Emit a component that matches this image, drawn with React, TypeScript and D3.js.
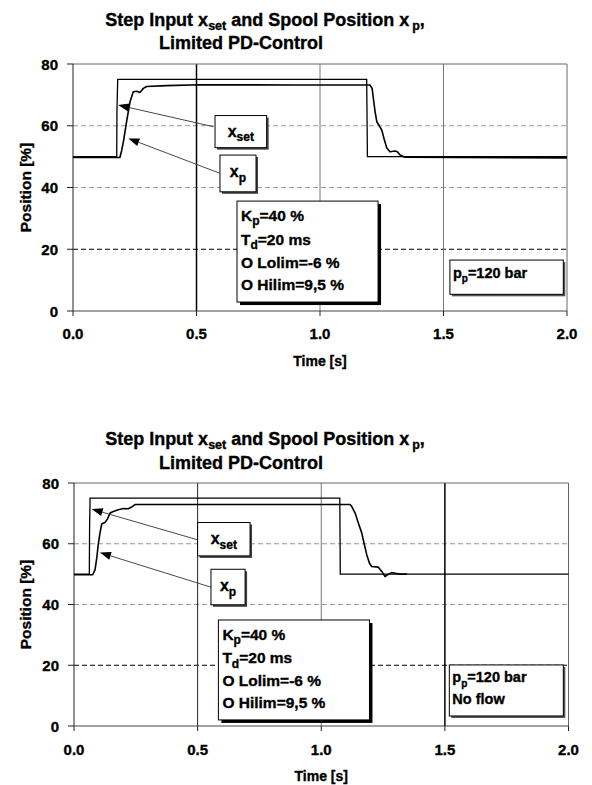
import React from 'react';
import * as d3 from 'd3';

const FONT = "'Liberation Sans', Arial, Helvetica, sans-serif";

// Shared axis ticks
const timeTicks = [0, 0.5, 1.0, 1.5, 2.0];
const timeTickLabels = ['0.0', '0.5', '1.0', '1.5', '2.0'];
const posTicks = [0, 20, 40, 60, 80];
const posTickLabels = ['0', '20', '40', '60', '80'];
const dashedLevels = [20, 40, 60];
const cursorTimes = [0.5, 1.0, 1.5];

// Run A: pump pressure 120 bar
const setTimeA = [0, 0.177, 0.178, 0.181, 1.189, 1.192, 2.0];
const setValA = [50, 50, 65, 75, 75, 50, 50];
const spoolTimeA = [0, 0.19, 0.197, 0.204, 0.217, 0.231, 0.244, 0.258, 0.271, 0.285, 0.298, 0.379, 0.514, 0.9, 1.202, 1.211, 1.216, 1.223, 1.23, 1.24, 1.25, 1.259, 1.27, 1.283, 1.304, 1.313, 1.324, 1.344, 2.0];
const spoolValA = [49.7, 49.7, 52, 54.8, 61.3, 67.8, 71.0, 71.2, 70.8, 72.1, 72.7, 73.0, 73.3, 73.2, 73.2, 72.1, 68.9, 64.6, 61.3, 60.0, 58.6, 55.9, 52.9, 51.6, 51.8, 51.6, 50.5, 49.8, 49.6];

// Run B: pump pressure 120 bar, no flow
const setTimeB = [0, 0.062, 0.063, 0.065, 1.075, 1.077, 2.0];
const setValB = [50, 50, 65, 75, 75, 50, 50];
const spoolTimeB = [0, 0.0756, 0.085, 0.092, 0.098, 0.105, 0.112, 0.125, 0.135, 0.146, 0.159, 0.179, 0.2, 0.22, 0.233, 0.247, 1.117, 1.123, 1.137, 1.15, 1.164, 1.173, 1.184, 1.195, 1.204, 1.231, 1.245, 1.258, 1.272, 1.285, 1.299, 1.319, 1.346];
const spoolValB = [49.8, 49.8, 51.4, 55.3, 59.7, 63.5, 66.5, 67.0, 68.1, 70.1, 70.6, 71.2, 71.6, 71.5, 72.1, 72.9, 72.9, 72.3, 70.1, 66.8, 63.5, 60.2, 56.4, 53.6, 52.5, 52.3, 50.9, 49.2, 50.0, 50.5, 50.3, 50.0, 50.0];

const zip = (t: number[], v: number[]) => t.map((ti, i) => [ti, v[i]] as [number, number]);

type Frame = { left: number; right: number; top: number; bottom: number; title1: number; title2: number; tickBase: number; axisTitle: number };
type Box = { t0: number; t1: number; v0: number; v1: number };
type Arrow = { from: [number, number]; to: [number, number] };
type Notes = {
  setBox: Box; spoolBox: Box; setArrow: Arrow; spoolArrow: Arrow;
  paramBox: Box; ppBox: Box; ppExtra: string | null;
};

// heavier bold look for chart text
const heavy = { stroke: '#000', strokeWidth: 0.35 };

function SubText({ x, y, main, sub, rest, size, subSize, weight = 700, anchor = 'start', dx = 0 }:
  { x: number; y: number; main: string; sub: string; rest: string; size: number; subSize: number; weight?: number; anchor?: string; dx?: number }) {
  return (
    <text x={x} y={y} fontSize={size} fontWeight={weight} fontFamily={FONT} textAnchor={anchor} {...heavy}>
      {main}
      <tspan dx={dx} dy={size * 0.28} fontSize={subSize}>{sub}</tspan>
      <tspan dy={-size * 0.28}>{rest}</tspan>
    </text>
  );
}

function Title({ cx, y1, y2 }: { cx: number; y1: number; y2: number }) {
  const s = 18;
  const ss = 12.5;
  return (
    <g fontFamily={FONT} fontWeight={700} fill="#000" {...heavy}>
      <text x={cx} y={y1} fontSize={s} textAnchor="middle">
        Step Input x
        <tspan dy={4} fontSize={ss}>set</tspan>
        <tspan dy={-4}> and Spool Position x</tspan>
        <tspan dx={3} dy={4} fontSize={ss}>p</tspan>
        <tspan dy={-4}>,</tspan>
      </text>
      <text x={cx - 24} y={y2} fontSize={s} textAnchor="middle">Limited PD-Control</text>
    </g>
  );
}

function Panel({ frame, setT, setV, spT, spV, cursorColors, cursorWidths, levelColors, notes }:
  { frame: Frame; setT: number[]; setV: number[]; spT: number[]; spV: number[]; cursorColors: string[]; cursorWidths: number[]; levelColors: string[]; notes: Notes }) {
  const x = d3.scaleLinear().domain([0, 2]).range([frame.left, frame.right]);
  const y = d3.scaleLinear().domain([0, 80]).range([frame.bottom, frame.top]);
  const line = d3.line<[number, number]>().x(d => x(d[0])).y(d => y(d[1]));

  const rect = (b: Box) => ({ x: x(b.t0), y: y(b.v0), w: x(b.t1) - x(b.t0), h: y(b.v1) - y(b.v0) });

  const arrow = (a: Arrow, key: string) => {
    const x1 = x(a.from[0]), y1 = y(a.from[1]), x2 = x(a.to[0]), y2 = y(a.to[1]);
    const ang = Math.atan2(y2 - y1, x2 - x1);
    const len = 11, half = 4;
    const bx = x2 - len * Math.cos(ang), by = y2 - len * Math.sin(ang);
    const px = -Math.sin(ang) * half, py = Math.cos(ang) * half;
    return (
      <g key={key}>
        <line x1={x1} y1={y1} x2={bx} y2={by} stroke="#333" strokeWidth={0.9} />
        <path d={`M${x2},${y2}L${bx + px},${by + py}L${bx - px},${by - py}Z`} fill="#000" />
      </g>
    );
  };

  const shadowBox = (b: Box, shadow: number, shadowColor: string, key: string) => {
    const r = rect(b);
    return (
      <g key={key}>
        <rect x={r.x + shadow} y={r.y + shadow} width={r.w} height={r.h} fill={shadowColor} />
        <rect x={r.x} y={r.y} width={r.w} height={r.h} fill="#fff" stroke="#000" strokeWidth={1} />
      </g>
    );
  };

  const sb = rect(notes.setBox);
  const pb = rect(notes.spoolBox);
  const prm = rect(notes.paramBox);
  const pp = rect(notes.ppBox);
  const midX = (frame.left + frame.right) / 2;
  const midY = (frame.top + frame.bottom) / 2;

  return (
    <g>
      <Title cx={265} y1={frame.title1} y2={frame.title2} />

      {/* dashed position levels */}
      {dashedLevels.map((v, i) => (
        <line key={`h${v}`} x1={x(0)} x2={x(2)} y1={y(v)} y2={y(v)} stroke={levelColors[i]} strokeWidth={1} strokeDasharray="5,3" />
      ))}
      {/* time cursors */}
      {cursorTimes.map((t, i) => (
        <line key={`v${t}`} x1={x(t)} x2={x(t)} y1={y(0)} y2={y(80)} stroke={cursorColors[i]} strokeWidth={cursorWidths[i]} />
      ))}
      {/* plot frame */}
      <line x1={x(0)} x2={x(2)} y1={y(80)} y2={y(80)} stroke="#666" strokeWidth={1} />
      <line x1={x(2)} x2={x(2)} y1={y(80)} y2={y(0)} stroke="#666" strokeWidth={1} />

      {/* axes */}
      <line x1={x(0)} x2={x(0)} y1={y(80)} y2={y(0)} stroke="#222" strokeWidth={1} />
      <line x1={x(0)} x2={x(2)} y1={y(0)} y2={y(0)} stroke="#444" strokeWidth={1} />
      {posTicks.map((v, i) => (
        <g key={`yt${v}`}>
          <line x1={x(0) - 6} x2={x(0)} y1={y(v)} y2={y(v)} stroke="#222" strokeWidth={1} />
          <text x={x(0) - 15} y={y(v) + 5.5} textAnchor="end" fontFamily={FONT} fontWeight={700} fontSize={15} {...heavy}>{posTickLabels[i]}</text>
        </g>
      ))}
      {timeTicks.map((t, i) => (
        <g key={`xt${t}`}>
          <line x1={x(t)} x2={x(t)} y1={y(0)} y2={y(0) + 5} stroke="#222" strokeWidth={1} />
          <text x={x(t)} y={frame.tickBase} textAnchor="middle" fontFamily={FONT} fontWeight={700} fontSize={15} {...heavy}>{timeTickLabels[i]}</text>
        </g>
      ))}
      <text x={midX} y={frame.axisTitle} textAnchor="middle" fontFamily={FONT} fontWeight={700} fontSize={14} {...heavy}>Time [s]</text>
      <text transform={`translate(31,${midY}) rotate(-90)`} textAnchor="middle" fontFamily={FONT} fontWeight={700} fontSize={15.5} {...heavy}>Position [%]</text>

      {/* series */}
      <path d={line(zip(setT, setV)) || ''} fill="none" stroke="#000" strokeWidth={1.3} />
      <path d={line(zip(spT, spV)) || ''} fill="none" stroke="#000" strokeWidth={1.6} strokeLinejoin="round" />

      {/* labels with leader arrows */}
      {arrow(notes.setArrow, 'a1')}
      {arrow(notes.spoolArrow, 'a2')}
      {shadowBox(notes.setBox, 2, '#444', 'b1')}
      {shadowBox(notes.spoolBox, 2, '#444', 'b2')}
      <SubText x={sb.x + sb.w / 2} y={sb.y + sb.h / 2 + 5} main="x" sub="set" rest="" size={16} subSize={12} weight={700} anchor="middle" />
      <SubText x={pb.x + pb.w / 2} y={pb.y + pb.h / 2 + 4} main="x" sub="p" rest="" size={16} subSize={12} weight={700} anchor="middle" />

      {/* controller parameters */}
      {shadowBox(notes.paramBox, 3, '#000', 'b3')}
      <SubText x={prm.x + 4} y={prm.y + 20} main="K" sub="p" rest="=40 %" size={15.5} subSize={12} />
      <SubText x={prm.x + 4} y={prm.y + 43.5} main="T" sub="d" rest="=20 ms" size={15.5} subSize={12} />
      <text x={prm.x + 4} y={prm.y + 66.5} fontFamily={FONT} fontWeight={700} fontSize={15.5} {...heavy}>O Lolim=-6 %</text>
      <text x={prm.x + 4} y={prm.y + 88.5} fontFamily={FONT} fontWeight={700} fontSize={15.5} {...heavy}>O Hilim=9,5 %</text>

      {/* supply pressure */}
      {shadowBox(notes.ppBox, 2, '#555', 'b4')}
      <SubText x={pp.x + 3} y={pp.y + 17.5} main="p" sub="p" rest="=120 bar" size={14.5} subSize={10} />
      {notes.ppExtra && (
        <text x={pp.x + 3} y={pp.y + 39.5} fontFamily={FONT} fontWeight={700} fontSize={14.5} {...heavy}>{notes.ppExtra}</text>
      )}
    </g>
  );
}

const frameA: Frame = { left: 73, right: 567, top: 64, bottom: 311, title1: 26, title2: 49, tickBase: 339, axisTitle: 366 };
const frameB: Frame = { left: 74, right: 568.5, top: 483, bottom: 726, title1: 445, title2: 469, tickBase: 755, axisTitle: 781 };

const notesA: Notes = {
  setBox: { t0: 0.575, t1: 0.784, v0: 63.3, v1: 52.9 },
  spoolBox: { t0: 0.595, t1: 0.741, v0: 50.5, v1: 38.6 },
  setArrow: { from: [0.568, 59.7], to: [0.183, 66.7] },
  spoolArrow: { from: [0.595, 44.6], to: [0.224, 55.9] },
  paramBox: { t0: 0.664, t1: 1.235, v0: 35.6, v1: 2.9 },
  ppBox: { t0: 1.526, t1: 1.985, v0: 16.5, v1: 5.4 },
  ppExtra: null,
};

const notesB: Notes = {
  setBox: { t0: 0.5, t1: 0.712, v0: 67.0, v1: 56.0 },
  spoolBox: { t0: 0.554, t1: 0.692, v0: 51.6, v1: 39.9 },
  setArrow: { from: [0.5, 61.3], to: [0.0716, 71.4] },
  spoolArrow: { from: [0.554, 45.7], to: [0.105, 57.1] },
  paramBox: { t0: 0.584, t1: 1.195, v0: 34.9, v1: 2.0 },
  ppBox: { t0: 1.518, t1: 1.979, v0: 20.1, v1: 3.3 },
  ppExtra: 'No flow',
};

export default function App() {
  return (
    <svg width={592} height={785} viewBox="0 0 592 785" style={{ position: 'absolute', left: 0, top: 0, background: '#fff' }}>
      <rect width={592} height={785} fill="#fff" />
      <Panel frame={frameA} setT={setTimeA} setV={setValA} spT={spoolTimeA} spV={spoolValA}
        cursorColors={['#000', '#777', '#777']} cursorWidths={[1.5, 1, 1]}
        levelColors={['#000', '#999', '#999']} notes={notesA} />
      <Panel frame={frameB} setT={setTimeB} setV={setValB} spT={spoolTimeB} spV={spoolValB}
        cursorColors={['#222', '#777', '#000']} cursorWidths={[1, 1, 1.5]}
        levelColors={['#000', '#999', '#999']} notes={notesB} />
    </svg>
  );
}
